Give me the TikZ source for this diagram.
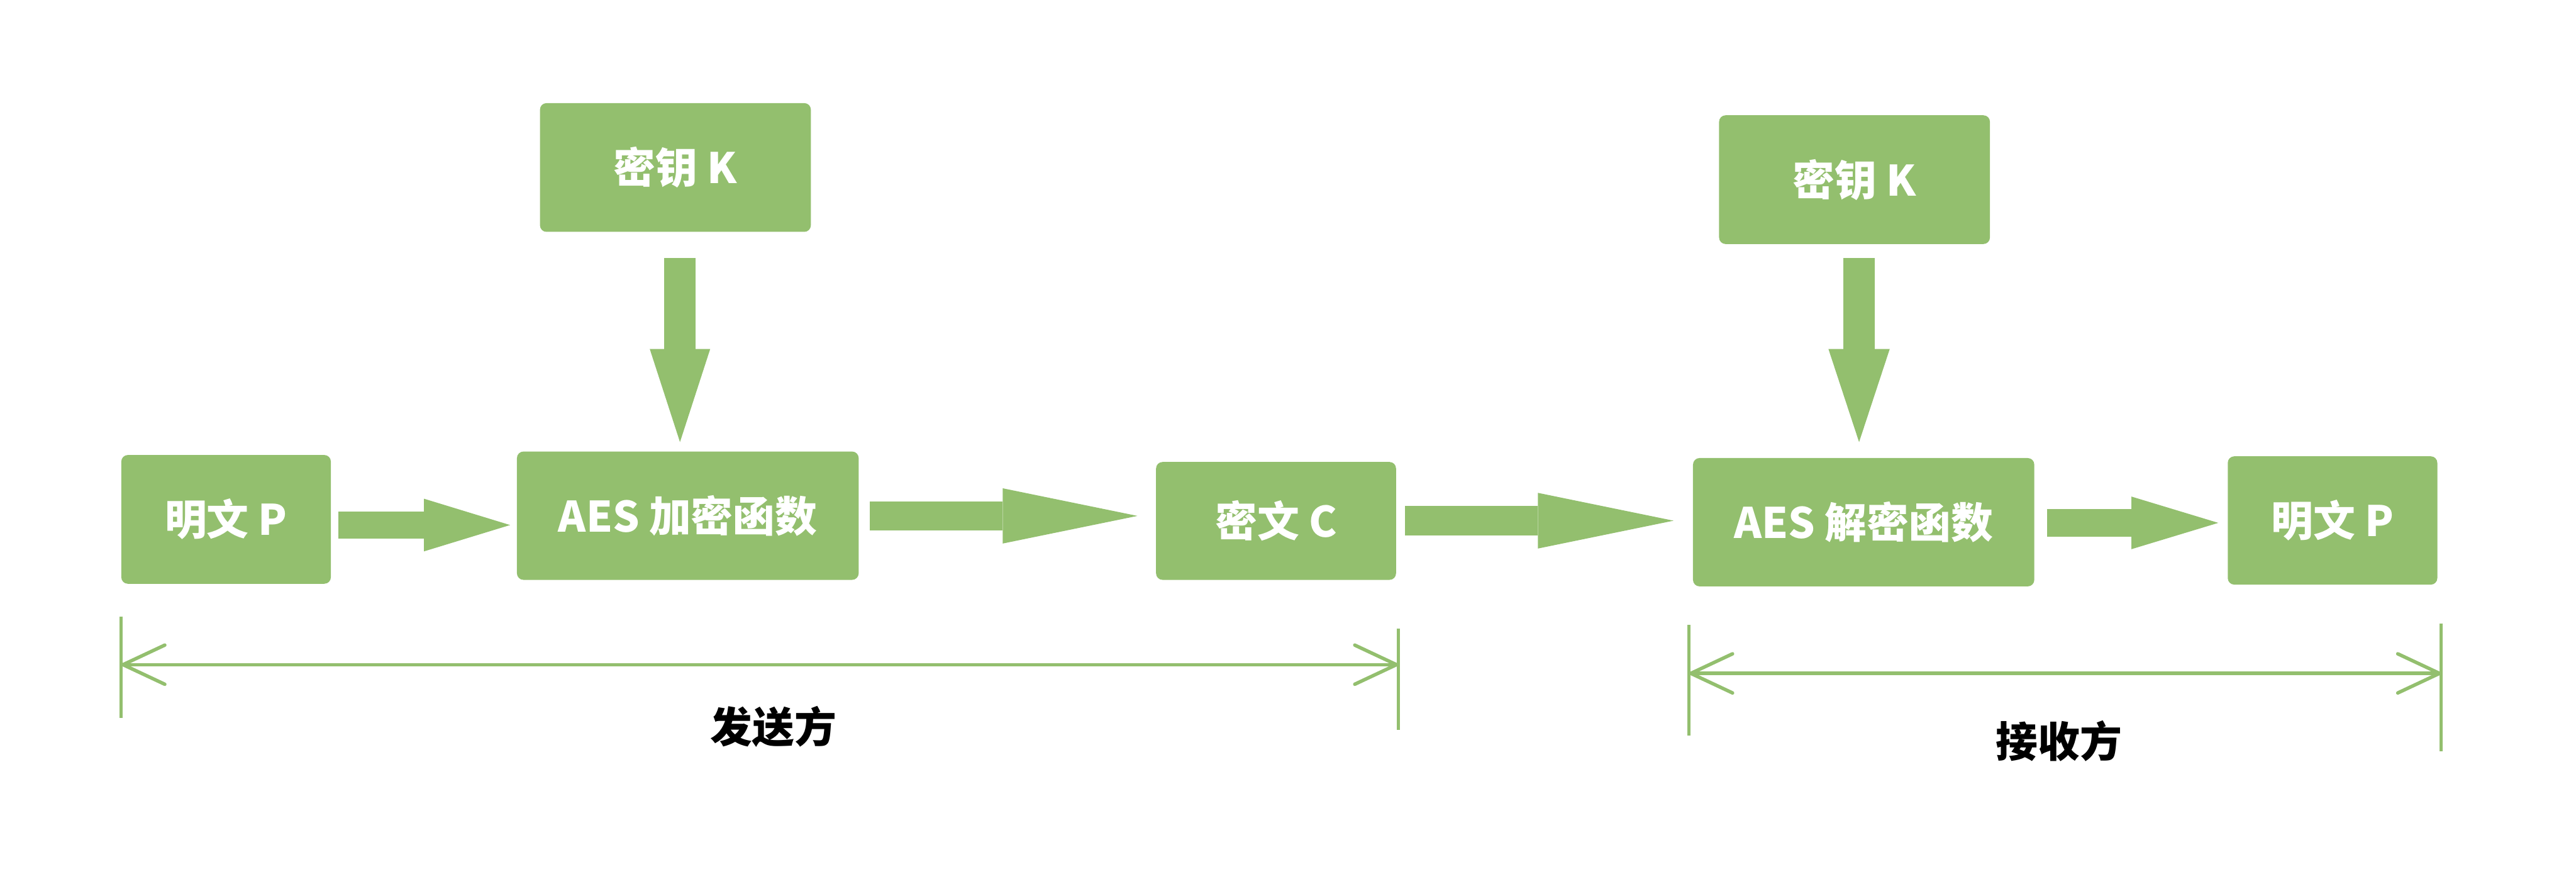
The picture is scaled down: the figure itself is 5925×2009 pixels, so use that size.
\documentclass[tikz,border=0pt]{standalone}
\usepackage{fontspec}
\setmainfont{Noto Sans CJK SC}
\usetikzlibrary{arrows.meta,positioning}
\definecolor{aesgreen}{RGB}{147,191,110}

\begin{document}
\begin{tikzpicture}[
  x=0.1mm, y=-0.1mm,
  font=\fontsize{27.5pt}{33pt}\selectfont\bfseries,
  box/.style={fill=aesgreen, rounded corners=1.5mm, inner sep=0pt, text=white},
  blk/.style n args={3}{draw=aesgreen, line width=#1, -{Triangle[length=#2, width=#3, line width=0pt]}},
  dim/.style={draw=aesgreen, line width=0.8mm, {Straight Barb[length=9.6mm, width=9mm, round]}-{Straight Barb[length=9.6mm, width=9mm, round]}},
  tick/.style={draw=aesgreen, line width=0.7mm},
  side/.style={text=black},
]
\useasboundingbox (0,0) rectangle (5925,2009);

% ---------------- sender ----------------
\node[box, minimum width=48.2mm, minimum height=29.6mm] (plain1) at (520,1194) {明文 P};
\node[box, minimum width=62.3mm, minimum height=29.6mm] (key1) at (1553.5,385) {密钥 K};
\node[box, minimum width=78.6mm, minimum height=29.5mm] (enc) at (1582,1185.5) {AES 加密函数};
\node[box, minimum width=55.2mm, minimum height=27.1mm] (cipher) at (2935,1197.5) {密文 C};

\draw[blk={6.3mm}{19.8mm}{12.1mm}, shorten <=1.7mm, shorten >=1.5mm] (plain1.east |- 0,1207) -- (enc.west |- 0,1207);
\draw[blk={7.2mm}{21.4mm}{13.9mm}, shorten <=6mm, shorten >=2.1mm] (key1.south -| 1564,0) -- (enc.north -| 1564,0);
\draw[blk={6.6mm}{31mm}{12.7mm}, shorten <=2.5mm, shorten >=4.2mm] (enc.east |- 0,1186) -- (cipher.west |- 0,1186);

% ---------------- receiver ----------------
\node[box, minimum width=62.3mm, minimum height=29.6mm] (key2) at (4265.5,413) {密钥 K};
\node[box, minimum width=78.5mm, minimum height=29.5mm] (dec) at (4286.5,1200.5) {AES 解密函数};
\node[box, minimum width=48.2mm, minimum height=29.5mm] (plain2) at (5365,1196.5) {明文 P};

\draw[blk={6.7mm}{31.2mm}{12.8mm}, shorten <=2mm, shorten >=4.4mm] (cipher.east |- 0,1197) -- (dec.west |- 0,1197);
\draw[blk={7.2mm}{21.4mm}{14.1mm}, shorten <=3.2mm, shorten >=3.6mm] (key2.south -| 4276,0) -- (dec.north -| 4276,0);
\draw[blk={6.3mm}{20mm}{12.1mm}, shorten <=2.8mm, shorten >=2.1mm] (dec.east |- 0,1202) -- (plain2.west |- 0,1202);

% ---------------- spans ----------------
\coordinate (sL) at (279,1528);
\coordinate (sR) at (3216,1528);
\coordinate (rL) at (3885,1548);
\coordinate (rR) at (5615,1548);
\draw[tick] (279,1417) -- (279,1650);
\draw[tick] (3216,1445) -- (3216,1678);
\draw[tick] (3885,1437) -- (3885,1691);
\draw[tick] (5615,1433) -- (5615,1727);
\draw[dim] (sL) -- (sR);
\draw[dim] (rL) -- (rR);

\node[side] (send) at (1779,1671) {发送方};
\node[side] (recv) at (4736,1703) {接收方};
\end{tikzpicture}
\end{document}
